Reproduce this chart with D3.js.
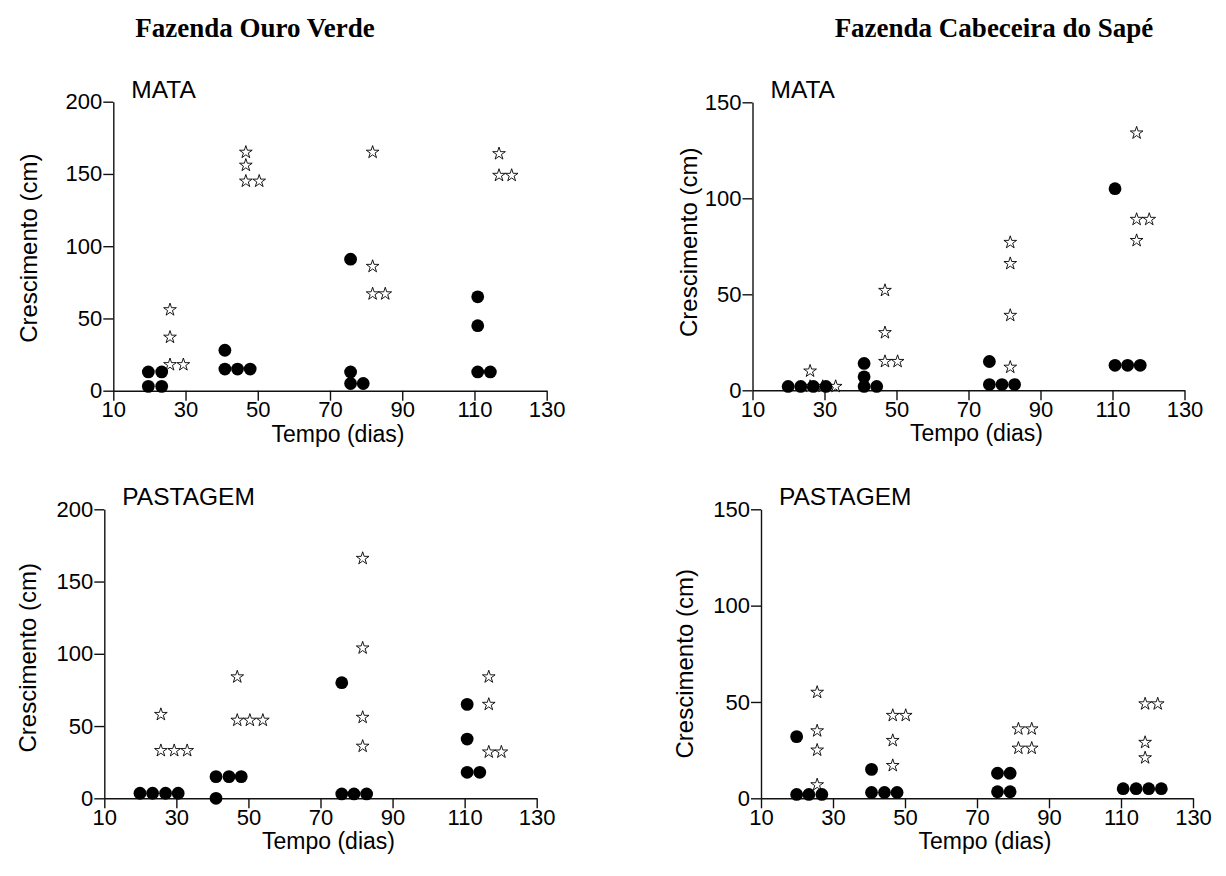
<!DOCTYPE html>
<html>
<head>
<meta charset="utf-8">
<script src="https://cdn.jsdelivr.net/npm/d3@7"></script>
<style>
    body { margin: 0; background: #fff; }
    svg { display: block; }
</style>
</head>
<body>
<div id="chart"></div>
<script>
// growth (cm) per day, filled circles and open stars
var xTicks = [10, 30, 50, 70, 90, 110, 130];

var ouroMataCirculos = [[19.7,13],[23.4,13],[19.7,3],[23.4,3],[40.9,28],[40.9,15],[44.4,15],[47.9,15],
    [75.7,91],[75.7,13],[75.7,5],[79.2,5],[110.9,65],[110.9,45],[110.9,13],[114.4,13]];
var ouroMataEstrelas = [[25.7,56],[25.7,37],[25.7,18],[29.4,18],[46.7,165],[46.7,156],[46.7,145],[50.4,145],
    [81.8,165],[81.8,86],[81.8,67],[85.3,67],[116.8,164],[116.8,149],[120.3,149]];

var sapeMataCirculos = [[19.9,2],[23.4,2],[26.9,2],[30.4,2],[41,14],[41,7],[41,2],[44.5,2],
    [75.8,15],[75.8,3],[79.3,3],[82.8,3],[110.7,105],[110.7,13],[114.2,13],[117.7,13]];
var sapeMataEstrelas = [[26,10],[26,2],[29.5,2],[33.1,2],[46.8,52],[46.8,30],[46.8,15],[50.3,15],
    [81.6,77],[81.6,66],[81.6,39],[81.6,12],[116.7,134],[116.7,89],[120.2,89],[116.7,78]];

var ouroPastCirculos = [[19.9,3.5],[23.4,3.5],[27,3.5],[30.5,3.5],[41,0],[41,15],[44.6,15],[48,15],
    [75.9,80],[75.9,3],[79.3,3],[82.8,3],[110.7,65],[110.7,41],[110.7,18],[114.2,18]];
var ouroPastEstrelas = [[25.7,58],[25.7,33],[29.4,33],[33,33],[46.9,84],[46.9,54],[50.4,54],[54,54],
    [81.7,166],[81.7,104],[81.7,56],[81.7,36],[116.7,84],[116.7,65],[116.7,32],[120.2,32]];

var sapePastCirculos = [[19.9,32],[19.9,2],[23.3,2],[26.9,2],[40.7,15],[40.7,3],[44.3,3],[47.8,3],
    [75.7,13],[79.2,13],[75.7,3.4],[79.2,3.4],[110.6,5],[114.2,5],[117.7,5],[121.2,5]];
var sapePastEstrelas = [[25.6,55],[25.6,35],[25.6,25],[25.6,7],[46.6,43],[50.2,43],[46.6,30],[46.6,17],
    [81.5,36],[85.2,36],[81.5,26],[85.2,26],[116.7,49],[120.2,49],[116.7,29],[116.7,21]];

var yTicks200 = [0, 50, 100, 150, 200];
var yTicks150 = [0, 50, 100, 150];

var svg = d3.select("#chart").append("svg")
    .attr("width", 1226).attr("height", 876);

// farm titles
svg.append("text")
    .attr("x", 255).attr("y", 37)
    .attr("text-anchor", "middle")
    .style("font-family", "'Liberation Serif', 'Times New Roman', serif")
    .style("font-weight", "bold")
    .style("font-size", "27px")
    .text("Fazenda Ouro Verde");
svg.append("text")
    .attr("x", 994).attr("y", 37)
    .attr("text-anchor", "middle")
    .style("font-family", "'Liberation Serif', 'Times New Roman', serif")
    .style("font-weight", "bold")
    .style("font-size", "27px")
    .text("Fazenda Cabeceira do Sapé");

// constructor function
ScatterPanel = function(_svg, _box, _yMax, _yTicks, _label, _circulos, _estrelas) {
    this.svg = _svg;
    this.box = _box;          // left, right, top, bottom of the plot area + y title offsets
    this.yMax = _yMax;
    this.yTicks = _yTicks;
    this.label = _label;
    this.circulos = _circulos;
    this.estrelas = _estrelas;

    this.initVis();
}

ScatterPanel.prototype.initVis = function() {
    var vis = this;
    var font = "'Liberation Sans', Arial, sans-serif";

    vis.x = d3.scaleLinear().domain([10, 130]).range([vis.box.left, vis.box.right]);
    vis.y = d3.scaleLinear().domain([0, vis.yMax]).range([vis.box.bottom, vis.box.top]);

    vis.g = vis.svg.append("g");

    // X Axis
    vis.xAxis = vis.g.append("g")
        .attr("class", "x axis")
        .attr("transform", "translate(0 " + vis.box.bottom + ")")
        .call(d3.axisBottom(vis.x).tickValues(xTicks).tickSize(10).tickSizeOuter(0).tickPadding(1));

    // Y Axis
    vis.yAxis = vis.g.append("g")
        .attr("class", "y axis")
        .attr("transform", "translate(" + vis.box.left + " 0)")
        .call(d3.axisLeft(vis.y).tickValues(vis.yTicks).tickSize(10).tickSizeOuter(0).tickPadding(1));

    vis.g.selectAll(".axis path, .axis line")
        .attr("stroke", "#111").attr("stroke-width", 1.4);
    vis.g.selectAll(".axis text")
        .attr("fill", "#000")
        .style("font-family", font)
        .style("font-size", "22px");

    // Axis names
    vis.g.append("text")
        .attr("x", (vis.box.left + vis.box.right) / 2 + 8)
        .attr("y", vis.box.bottom + 51)
        .attr("text-anchor", "middle")
        .style("font-family", font)
        .style("font-size", "23px")
        .text("Tempo (dias)");
    vis.g.append("text")
        .attr("transform", "translate(" + (vis.box.left + vis.box.titleX) + " " + ((vis.box.top + vis.box.bottom) / 2 + vis.box.titleY) + ") rotate(-90)")
        .attr("text-anchor", "middle")
        .style("font-family", font)
        .style("font-size", "24px")
        .text("Crescimento (cm)");

    // panel label
    vis.g.append("text")
        .attr("x", vis.box.left + 18)
        .attr("y", vis.box.top - 4)
        .style("font-family", font)
        .style("font-size", "24.5px")
        .text(vis.label);

    vis.updateVis();
}

ScatterPanel.prototype.updateVis = function() {
    var vis = this;

    var star = d3.symbol().type(d3.symbolStar).size(50);

    // stars go first, circles sit on top of them
    vis.g.append("g").attr("class", "estrelas")
        .selectAll("path")
        .data(vis.estrelas)
        .enter().append("path")
        .attr("d", star)
        .attr("transform", function(d) { return "translate(" + vis.x(d[0]) + " " + vis.y(d[1]) + ")"; })
        .attr("fill", "#fff")
        .attr("stroke", "#000")
        .attr("stroke-width", 0.9);

    vis.g.append("g").attr("class", "circulos")
        .selectAll("circle")
        .data(vis.circulos)
        .enter().append("circle")
        .attr("cx", function(d) { return vis.x(d[0]); })
        .attr("cy", function(d) { return vis.y(d[1]); })
        .attr("r", 6.4)
        .attr("fill", "#000");
}

new ScatterPanel(svg, {left: 113.3, right: 546.7, top: 101.7, bottom: 390.7, titleX: -76, titleY: 2}, 200, yTicks200, "MATA", ouroMataCirculos, ouroMataEstrelas);
new ScatterPanel(svg, {left: 752.5, right: 1184.5, top: 102.3, bottom: 390.3, titleX: -56, titleY: -4}, 150, yTicks150, "MATA", sapeMataCirculos, sapeMataEstrelas);
new ScatterPanel(svg, {left: 104.3, right: 536.7, top: 509.3, bottom: 798.3, titleX: -68, titleY: 4}, 200, yTicks200, "PASTAGEM", ouroPastCirculos, ouroPastEstrelas);
new ScatterPanel(svg, {left: 761, right: 1193, top: 509.3, bottom: 798.3, titleX: -68, titleY: 10}, 150, yTicks150, "PASTAGEM", sapePastCirculos, sapePastEstrelas);
</script>
</body>
</html>
